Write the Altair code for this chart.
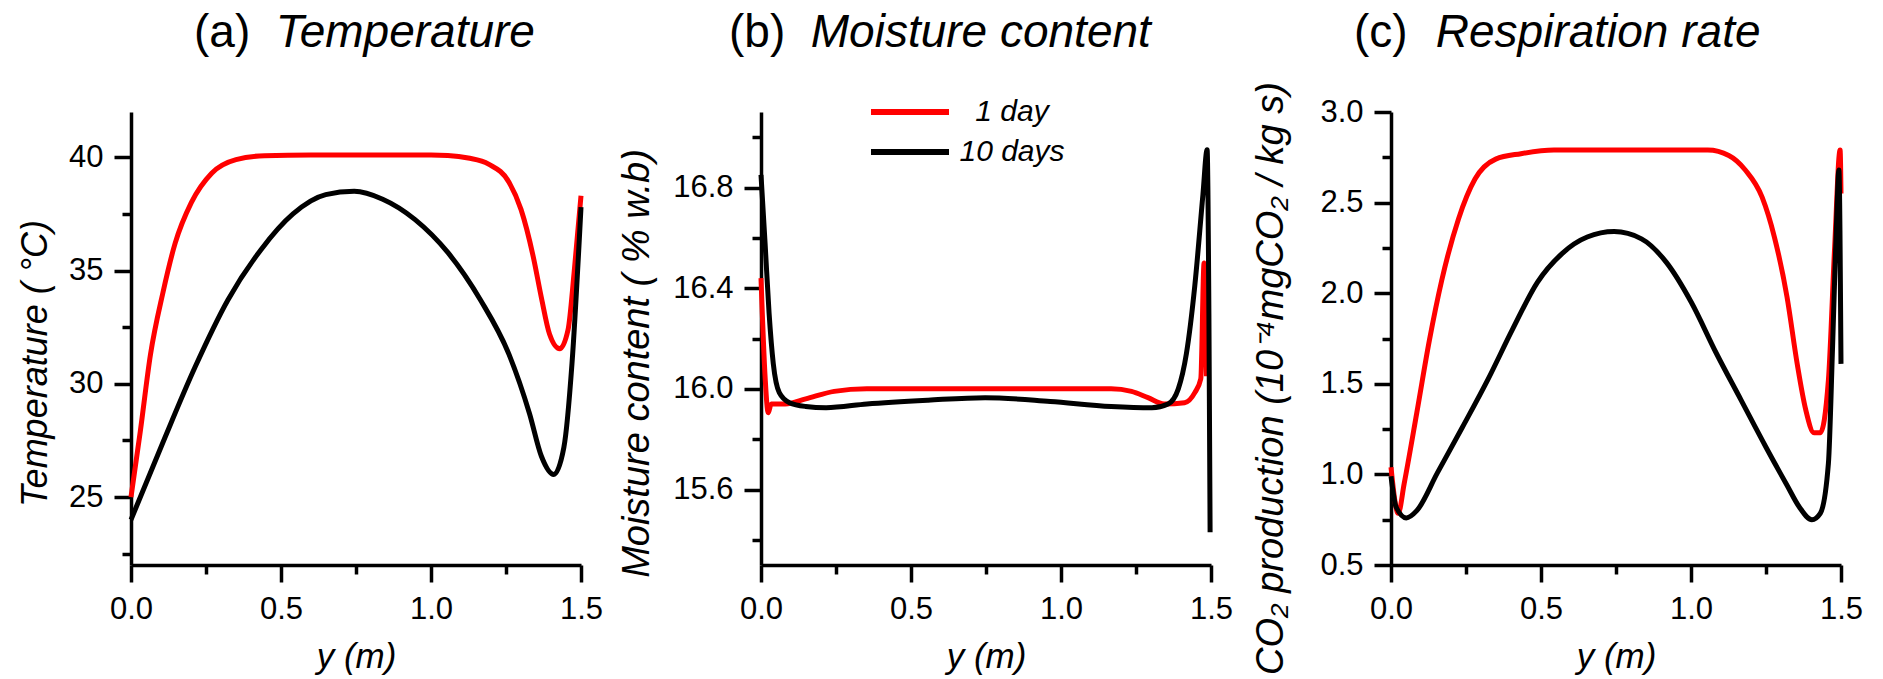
import altair as alt
import pandas as pd

FONT = "Liberation Sans, Arial, sans-serif"
SERIES = ["1 day", "10 days"]
COLORS = ["#ff0000", "#000000"]

# ---------------- (a) Temperature ----------------
a_x_1day = [0, 0.031, 0.065, 0.106, 0.147, 0.201, 0.269, 0.35, 0.445, 0.6, 0.8, 1.0,
            1.056, 1.124, 1.192, 1.26, 1.3, 1.341, 1.368, 1.395, 1.429, 1.457, 1.477, 1.5]
a_y_1day = [25.0, 27.9, 31.3, 34.0, 36.2, 38.0, 39.3, 39.9, 40.07, 40.1, 40.1, 40.1,
            40.08, 39.97, 39.7, 38.9, 37.7, 35.6, 33.8, 32.2, 31.55, 32.4, 34.9, 38.3]
a_x_10days = [0, 0.106, 0.214, 0.323, 0.432, 0.54, 0.649, 0.744, 0.839, 0.947, 1.056,
              1.165, 1.26, 1.328, 1.368, 1.409, 1.443, 1.47, 1.5]
a_y_10days = [24.0, 27.4, 30.75, 33.7, 35.9, 37.5, 38.35, 38.5, 38.15, 37.25, 35.8,
              33.7, 31.3, 28.7, 26.8, 26.0, 27.2, 30.9, 37.8]

# ---------------- (b) Moisture content ----------------
b_x_1day = [0, 0.014, 0.024, 0.034, 0.081, 0.149, 0.244, 0.353, 0.75, 1.0, 1.167, 1.235,
            1.29, 1.344, 1.412, 1.446, 1.466, 1.477, 1.485]
b_y_1day = [16.44, 16.04, 15.905, 15.94, 15.94, 15.96, 15.99, 16.0, 16.0, 16.0, 16.0, 15.99,
            15.965, 15.94, 15.945, 15.985, 16.04, 16.5, 16.05]
b_x_10days = [0, 0.014, 0.027, 0.041, 0.061, 0.095, 0.149, 0.217, 0.353, 0.557, 0.747,
              0.964, 1.167, 1.303, 1.357, 1.391, 1.418, 1.446, 1.473, 1.487, 1.493, 1.497]
b_y_10days = [16.85, 16.57, 16.30, 16.10, 15.985, 15.945, 15.93, 15.925, 15.94, 15.955, 15.965,
              15.95, 15.93, 15.925, 15.94, 16.0, 16.14, 16.41, 16.77, 16.95, 16.3, 15.43]

# ---------------- (c) Respiration rate ----------------
c_x_1day = [0, 0.024, 0.044, 0.086, 0.128, 0.169, 0.225, 0.28, 0.349, 0.433, 0.543, 1.056,
            1.126, 1.181, 1.237, 1.278, 1.32, 1.354, 1.382, 1.41, 1.431, 1.458, 1.479, 1.497, 1.5]
c_y_1day = [1.04, 0.785, 0.95, 1.34, 1.74, 2.07, 2.41, 2.63, 2.74, 2.77, 2.79, 2.79,
            2.76, 2.68, 2.53, 2.31, 1.98, 1.61, 1.36, 1.23, 1.23, 1.52, 2.26, 2.79, 2.55]
c_x_10days = [0, 0.017, 0.051, 0.086, 0.155, 0.238, 0.322, 0.405, 0.488, 0.571, 0.654, 0.744,
              0.835, 0.918, 1.001, 1.084, 1.167, 1.25, 1.32, 1.361, 1.403, 1.431, 1.458, 1.472,
              1.486, 1.493, 1.5]
c_y_10days = [0.99, 0.82, 0.76, 0.80, 1.01, 1.26, 1.52, 1.80, 2.06, 2.22, 2.31, 2.34,
              2.30, 2.17, 1.95, 1.67, 1.41, 1.15, 0.94, 0.82, 0.75, 0.785, 1.06, 1.71,
              2.44, 2.68, 1.61]

# ---------------- axes ticks ----------------
X_TICKS = [0, 0.25, 0.5, 0.75, 1.0, 1.25, 1.5]
A_TICKS = [22.5, 25, 27.5, 30, 32.5, 35, 37.5, 40]
B_TICKS = [15.4, 15.6, 15.8, 16.0, 16.2, 16.4, 16.6, 16.8, 17.0]
C_TICKS = [0.5, 0.75, 1.0, 1.25, 1.5, 1.75, 2.0, 2.25, 2.5, 2.75, 3.0]

MAJ_HALF = "abs(datum.value*2 - round(datum.value*2)) < 1e-6"
MAJ_FIVE = "abs(datum.value/5 - round(datum.value/5)) < 1e-6"
MAJ_B = "abs(datum.value*2.5 - round(datum.value*2.5)) < 1e-6"

W, H = 450, 453
GAP = "\u200b\u2003\u2002\u00a0"
TITLE_SIZE = 46


def frame(x1, y1, x2, y2):
    return pd.DataFrame({
        "y_m": x1 + x2,
        "v": y1 + y2,
        "series": [SERIES[0]] * len(x1) + [SERIES[1]] * len(x2),
    })


def common_axis(values, test, fmt, tick_major=17, tick_minor=9):
    return dict(
        values=values,
        labelExpr=f"{test} ? format(datum.value, '{fmt}') : ''",
        tickSize={"condition": {"test": test, "value": tick_major}, "value": tick_minor},
        grid=False,
        labelFlush=False,
        labelOverlap=False,
        labelFont=FONT,
        labelFontSize=31,
        labelColor="black",
        titleFont=FONT,
        titleColor="black",
        titleFontStyle="italic",
        titleFontWeight="normal",
        domainColor="black",
        domainWidth=3.5,
        tickColor="black",
        tickWidth=3.5,
    )


x_axis = alt.Axis(title="y (m)", titleFontSize=35, titleY=102, titleBaseline="alphabetic",
                  labelPadding=12, **common_axis(X_TICKS, MAJ_HALF, ".1f"))


def panel(df, ydomain, yticks, ytest, ytitle, title_x, title_y, title_size, letter, name,
          title_dx, title_offset, legend):
    yaxis = alt.Axis(title=ytitle, titleFontSize=title_size, titleX=title_x, titleY=title_y,
                     titleBaseline="alphabetic", titleAngle=270, titleAlign="center",
                     labelPadding=11, **common_axis(yticks, ytest, ".1f" if ytest != MAJ_FIVE else "d"))
    color = alt.Color("series:N",
                      scale=alt.Scale(domain=SERIES, range=COLORS),
                      legend=legend)
    return alt.Chart(df).mark_line(strokeWidth=5, interpolate="monotone").encode(
        x=alt.X("y_m:Q", scale=alt.Scale(domain=[0, 1.5], nice=False, zero=False), axis=x_axis),
        y=alt.Y("v:Q", scale=alt.Scale(domain=ydomain, nice=False, zero=False), axis=yaxis),
        color=color,
        detail="series:N",
    ).properties(
        width=W, height=H,
        title=alt.TitleParams(
            text=letter,
            subtitle=GAP + name,
            anchor="start", frame="group", dx=title_dx,
            font=FONT, fontSize=TITLE_SIZE, fontWeight="normal", color="black",
            subtitleFont=FONT, subtitleFontSize=TITLE_SIZE, subtitleFontStyle="italic",
            subtitleFontWeight="normal", subtitleColor="black",
            subtitlePadding=-TITLE_SIZE, baseline="top", offset=title_offset,
        ),
    )


legend_b = alt.Legend(title=None, orient="none", legendX=107, legendY=-20, padding=0,
                      symbolType="stroke", symbolSize=6084, symbolStrokeWidth=6,
                      labelFont=FONT, labelFontSize=30, labelFontStyle="italic",
                      labelColor="black", labelAlign="center", labelOffset=60,
                      rowPadding=0, clipHeight=40)

pa = panel(frame(a_x_1day, a_y_1day, a_x_10days, a_y_10days), [22, 42], A_TICKS, MAJ_FIVE,
           "Temperature ( °C)", -85, 251, 36, "(a)", "Temperature", 63, 55.5, None)
pb = panel(frame(b_x_1day, b_y_1day, b_x_10days, b_y_10days), [15.3, 17.1], B_TICKS, MAJ_B,
           "Moisture content ( % w.b)", -113, 251, 38, "(b)", "Moisture content", -32, 35.5,
           legend_b)
pc = panel(frame(c_x_1day, c_y_1day, c_x_10days, c_y_10days), [0.5, 3.0], C_TICKS, MAJ_HALF,
           "CO\u2082 production (10\u207b\u2074mgCO\u2082 / kg s)", -109, 266, 38, "(c)",
           "Respiration rate", -37, 24.5, None)

chart = alt.hconcat(pa, pb, pc, spacing=180, bounds="flush").resolve_legend(
    color="independent"
).properties(
    padding={"left": 17, "top": 9, "right": 10, "bottom": 2},
    background="white",
).configure_view(stroke=None)

chart.save("out.html", embed_options={"renderer": "svg", "actions": False})
